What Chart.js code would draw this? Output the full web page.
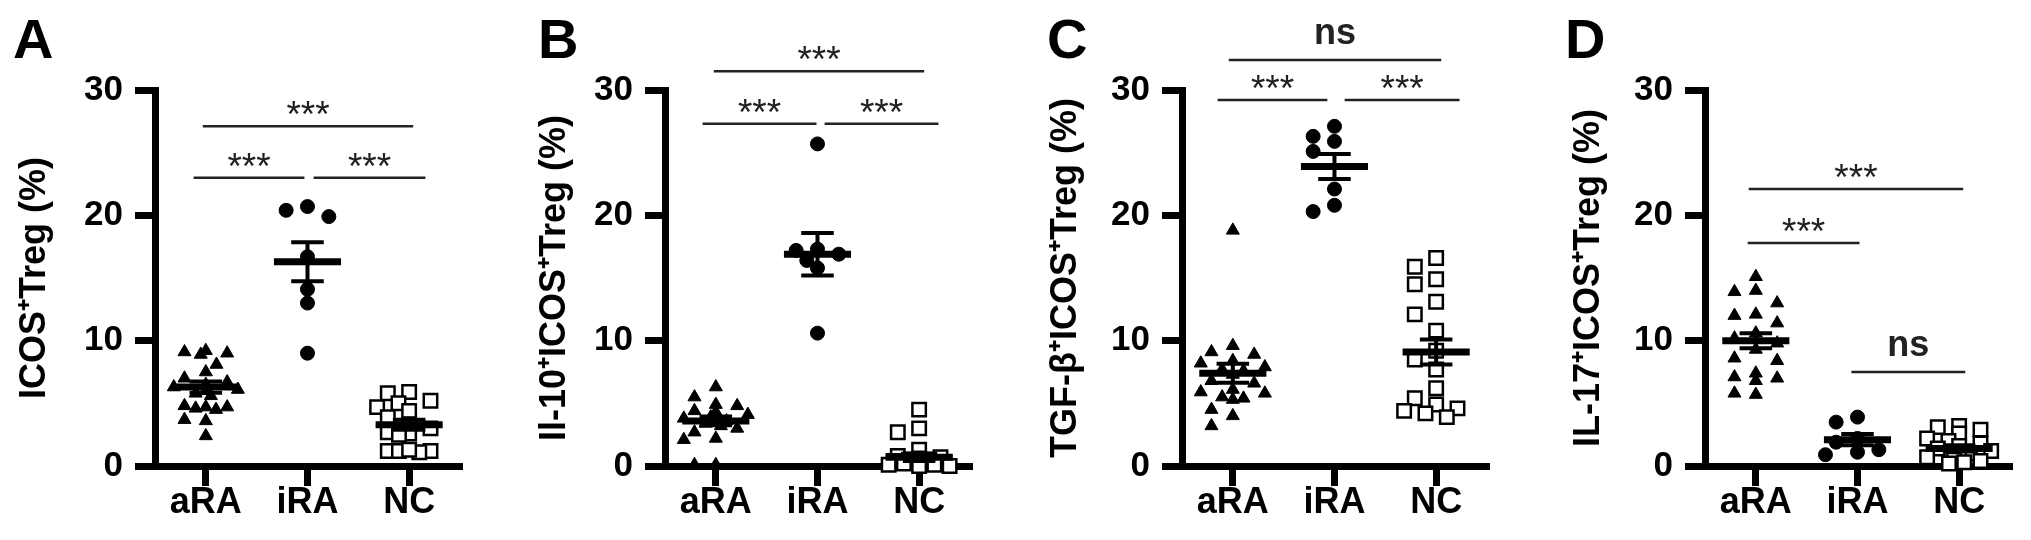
<!DOCTYPE html>
<html>
<head>
<meta charset="utf-8">
<script src="https://cdn.jsdelivr.net/npm/chart.js@4/dist/chart.umd.min.js"></script>
<style>
  html, body { margin: 0; padding: 0; background: #fff; width: 2031px; height: 540px; overflow: hidden; }
  canvas { position: absolute; top: 0; }
</style>
</head>
<body>
<canvas id="chartA" width="469" height="540" style="left:5px"></canvas>
<canvas id="chartB" width="469" height="540" style="left:515px"></canvas>
<canvas id="chartC" width="469" height="540" style="left:1032px"></canvas>
<canvas id="chartD" width="469" height="540" style="left:1555px"></canvas>
<script>
const groups = ["aRA", "iRA", "NC"];
const yTicks = [0, 10, 20, 30];

// A - ICOS+ Treg
const icosARA = [9.1, 9.2, 8.9, 9.0, 8.1, 7.5, 7.0, 6.7, 6.5, 6.3, 6.1, 6.0, 5.8, 5.6, 4.7, 4.8, 4.6, 4.5, 4.7, 3.7, 3.6, 2.4];
const icosIRA = [20.4, 19.9, 20.7, 16.7, 14.1, 13.0, 9.0];
const icosNC = [5.8, 5.9, 5.2, 5.0, 4.7, 4.4, 3.9, 3.3, 3.0, 2.7, 2.6, 2.5, 1.2, 1.2, 1.1, 1.2, 1.3];
const icosMean = [6.3, 16.3, 3.3];
const icosSem = [0.45, 1.55, 0.4];
const icosSig = [[0.97, 3.04, 27.1, "***"], [0.88, 1.97, 23.0, "***"], [2.06, 3.16, 23.0, "***"]];

// B - IL-10+ ICOS+ Treg
const il10ARA = [6.3, 5.5, 4.9, 4.8, 4.4, 4.3, 4.1, 3.9, 3.8, 3.6, 3.5, 3.4, 3.2, 3.0, 2.7, 2.2, 2.1, 0.1, 0.1];
const il10IRA = [25.7, 17.3, 17.2, 16.9, 16.4, 15.8, 10.6];
const il10NC = [4.5, 3.0, 2.7, 1.3, 0.8, 0.7, 0.6, 0.5, 0.5, 0.4, 0.3, 0.3, 0.2, 0.2, 0.1, 0.1, 0.0, 0.0];
const il10Mean = [3.6, 16.9, 0.7];
const il10Sem = [0.35, 1.7, 0.3];
const il10Sig = [[0.98, 3.05, 31.5, "***"], [0.87, 1.99, 27.3, "***"], [2.07, 3.19, 27.3, "***"]];

// C - TGF-b+ ICOS+ Treg
const tgfARA = [18.8, 9.6, 9.1, 8.9, 8.4, 8.2, 7.9, 7.7, 7.6, 7.3, 6.8, 6.6, 6.1, 5.9, 5.8, 5.5, 5.4, 5.3, 4.5, 4.0, 3.2];
const tgfIRA = [27.1, 26.3, 25.9, 25.1, 22.1, 20.8, 20.3];
const tgfNC = [16.6, 15.9, 14.9, 14.5, 13.1, 12.1, 10.8, 9.2, 8.5, 7.7, 6.2, 5.4, 4.9, 4.6, 4.4, 4.2, 3.9];
const tgfMean = [7.4, 23.9, 9.1];
const tgfSem = [0.75, 1.0, 1.0];
const tgfSig = [[0.96, 3.05, 32.4, "ns"], [0.85, 1.93, 29.2, "***"], [2.10, 3.23, 29.2, "***"]];

// D - IL-17+ ICOS+ Treg
const il17ARA = [15.1, 14.0, 13.9, 13.0, 12.1, 12.0, 11.4, 10.6, 10.2, 9.8, 9.3, 8.6, 8.4, 7.4, 7.1, 7.0, 6.8, 5.7, 5.8];
const il17IRA = [3.9, 3.5, 2.2, 1.9, 1.3, 1.1, 0.9];
const il17NC = [3.2, 3.1, 2.9, 2.6, 2.2, 2.0, 1.8, 1.6, 1.4, 1.2, 1.0, 0.9, 0.7, 0.5, 0.4, 0.3, 0.2];
const il17Mean = [10.0, 2.1, 1.4];
const il17Sem = [0.6, 0.45, 0.25];
const il17Sig = [[0.93, 3.04, 22.1, "***"], [0.92, 2.02, 17.8, "***"], [1.94, 3.06, 7.5, "ns"]];

const FONT = "'Liberation Sans', Arial, sans-serif";
Chart.defaults.font.family = FONT;
Chart.defaults.color = "#000";

const panels = [
  { id: "chartA", letter: "A", letterX: -142, titlePad: 8, title: "ICOS\u207ATreg (%)",
    series: [icosARA, icosIRA, icosNC], mean: icosMean, sem: icosSem, sig: icosSig },
  { id: "chartB", letter: "B", letterX: -127, titlePad: 18, title: "Il-10\u207AICOS\u207ATreg (%)",
    series: [il10ARA, il10IRA, il10NC], mean: il10Mean, sem: il10Sem, sig: il10Sig },
  { id: "chartC", letter: "C", letterX: -135, titlePad: 12, title: "TGF-\u03B2\u207AICOS\u207ATreg (%)",
    series: [tgfARA, tgfIRA, tgfNC], mean: tgfMean, sem: tgfSem, sig: tgfSig },
  { id: "chartD", letter: "D", letterX: -140, titlePad: 12, title: "IL-17\u207AICOS\u207ATreg (%)",
    series: [il17ARA, il17IRA, il17NC], mean: il17Mean, sem: il17Sem, sig: il17Sig }
];

// column scatter spread, roughly like a GraphPad column plot:
// free slots on a coarse grid first, otherwise pile in near the middle
function swarm(values, center) {
  const pxX = 103, pxY = 12.5, size = 13, squeeze = 6;
  const coarse = [0, -0.21, 0.21, -0.105, 0.105, -0.315, 0.315];
  const fine = [0];
  for (let k = 1; k <= 6; k++) fine.push(-k * 0.05, k * 0.05);
  const order = values.map((v, i) => i).sort((a, b) => values[b] - values[a]);
  const placed = [];
  const out = new Array(values.length);
  const gapAt = (dx, v) => {
    let gap = Infinity;
    placed.forEach((p) => {
      gap = Math.min(gap, Math.hypot((p.dx - dx) * pxX, (p.v - v) * pxY));
    });
    return gap;
  };
  order.forEach((i) => {
    const v = values[i];
    let pos = coarse.find((dx) => gapAt(dx, v) >= size);
    if (pos === undefined) pos = fine.find((dx) => gapAt(dx, v) >= squeeze);
    if (pos === undefined) {
      let bestGap = -1;
      fine.forEach((dx) => {
        const g = gapAt(dx, v);
        if (g > bestGap + 0.01) { bestGap = g; pos = dx; }
      });
    }
    placed.push({ dx: pos, v: v });
    out[i] = { x: center + pos, y: v };
  });
  return out;
}

function markup(p) {
  return {
    id: "markup",
    afterDatasetsDraw(chart) {
      const { ctx, chartArea } = chart;
      const x = chart.scales.x, y = chart.scales.y;
      const seg = (x1, y1, x2, y2) => { ctx.beginPath(); ctx.moveTo(x1, y1); ctx.lineTo(x2, y2); ctx.stroke(); };
      ctx.save();
      ctx.strokeStyle = "#000";
      // mean and SEM
      p.mean.forEach((m, i) => {
        const c = i + 1;
        const ym = y.getPixelForValue(m);
        ctx.lineWidth = 7;
        seg(x.getPixelForValue(c - 0.33), ym, x.getPixelForValue(c + 0.33), ym);
        const hi = y.getPixelForValue(m + p.sem[i]);
        const lo = y.getPixelForValue(m - p.sem[i]);
        ctx.lineWidth = 4;
        seg(x.getPixelForValue(c), hi, x.getPixelForValue(c), lo);
        seg(x.getPixelForValue(c - 0.16), hi, x.getPixelForValue(c + 0.16), hi);
        seg(x.getPixelForValue(c - 0.16), lo, x.getPixelForValue(c + 0.16), lo);
      });
      // significance bars
      ctx.strokeStyle = "#222";
      ctx.fillStyle = "#222";
      ctx.lineWidth = 2.5;
      ctx.textAlign = "center";
      ctx.textBaseline = "alphabetic";
      p.sig.forEach(([a, b, v, label]) => {
        const yy = y.getPixelForValue(v);
        const xa = x.getPixelForValue(a), xb = x.getPixelForValue(b);
        seg(xa, yy, xb, yy);
        if (label === "ns") {
          ctx.font = "bold 36px " + FONT;
          ctx.fillText(label, (xa + xb) / 2, yy - 16);
        } else {
          ctx.font = "37px " + FONT;
          ctx.fillText(label, (xa + xb) / 2, yy + 1);
        }
      });
      // panel letter
      ctx.fillStyle = "#000";
      ctx.textAlign = "left";
      ctx.font = "bold 56px " + FONT;
      ctx.fillText(p.letter, chartArea.left + p.letterX, 58);
      ctx.restore();
    }
  };
}

panels.forEach((p) => {
  new Chart(document.getElementById(p.id), {
    type: "scatter",
    data: {
      datasets: [
        { data: swarm(p.series[0], 1), pointStyle: "triangle", pointRadius: 7.5,
          backgroundColor: "#000", borderColor: "#000", borderWidth: 1 },
        { data: swarm(p.series[1], 2), pointStyle: "circle", pointRadius: 7,
          backgroundColor: "#000", borderColor: "#000", borderWidth: 1 },
        { data: swarm(p.series[2], 3), pointStyle: "rect", pointRadius: 9.5,
          backgroundColor: "#fff", borderColor: "#000", borderWidth: 2.5 }
      ]
    },
    options: {
      responsive: false,
      animation: false,
      events: [],
      clip: false,
      layout: { padding: { top: 90, left: 0, right: 8, bottom: 0 } },
      plugins: { legend: { display: false }, tooltip: { enabled: false } },
      scales: {
        x: {
          type: "linear",
          min: 0.5,
          max: 3.52,
          afterBuildTicks: (s) => { s.ticks = groups.map((g, i) => ({ value: i + 1 })); },
          afterFit: (s) => { s.height = 74; },
          ticks: {
            callback: (v) => groups[v - 1],
            color: "#000",
            font: { size: 36, weight: "bold" },
            padding: -5,
            maxRotation: 0,
            autoSkip: false
          },
          grid: { drawOnChartArea: false, drawTicks: true, tickLength: 20, tickWidth: 7, tickColor: "#000" },
          border: { display: true, color: "#000", width: 7 }
        },
        y: {
          min: 0,
          max: 30,
          afterBuildTicks: (s) => { s.ticks = yTicks.map((v) => ({ value: v })); },
          afterFit: (s) => { s.width = 150; },
          ticks: {
            color: "#000",
            font: { size: 35, weight: "bold" },
            padding: 12
          },
          grid: { drawOnChartArea: false, drawTicks: true, tickLength: 20, tickWidth: 7, tickColor: "#000" },
          border: { display: true, color: "#000", width: 7 },
          title: {
            display: true,
            text: p.title,
            color: "#000",
            font: { size: 36, weight: "bold" },
            padding: { top: p.titlePad, bottom: 0 }
          }
        }
      }
    },
    plugins: [markup(p)]
  });
});
</script>
</body>
</html>
